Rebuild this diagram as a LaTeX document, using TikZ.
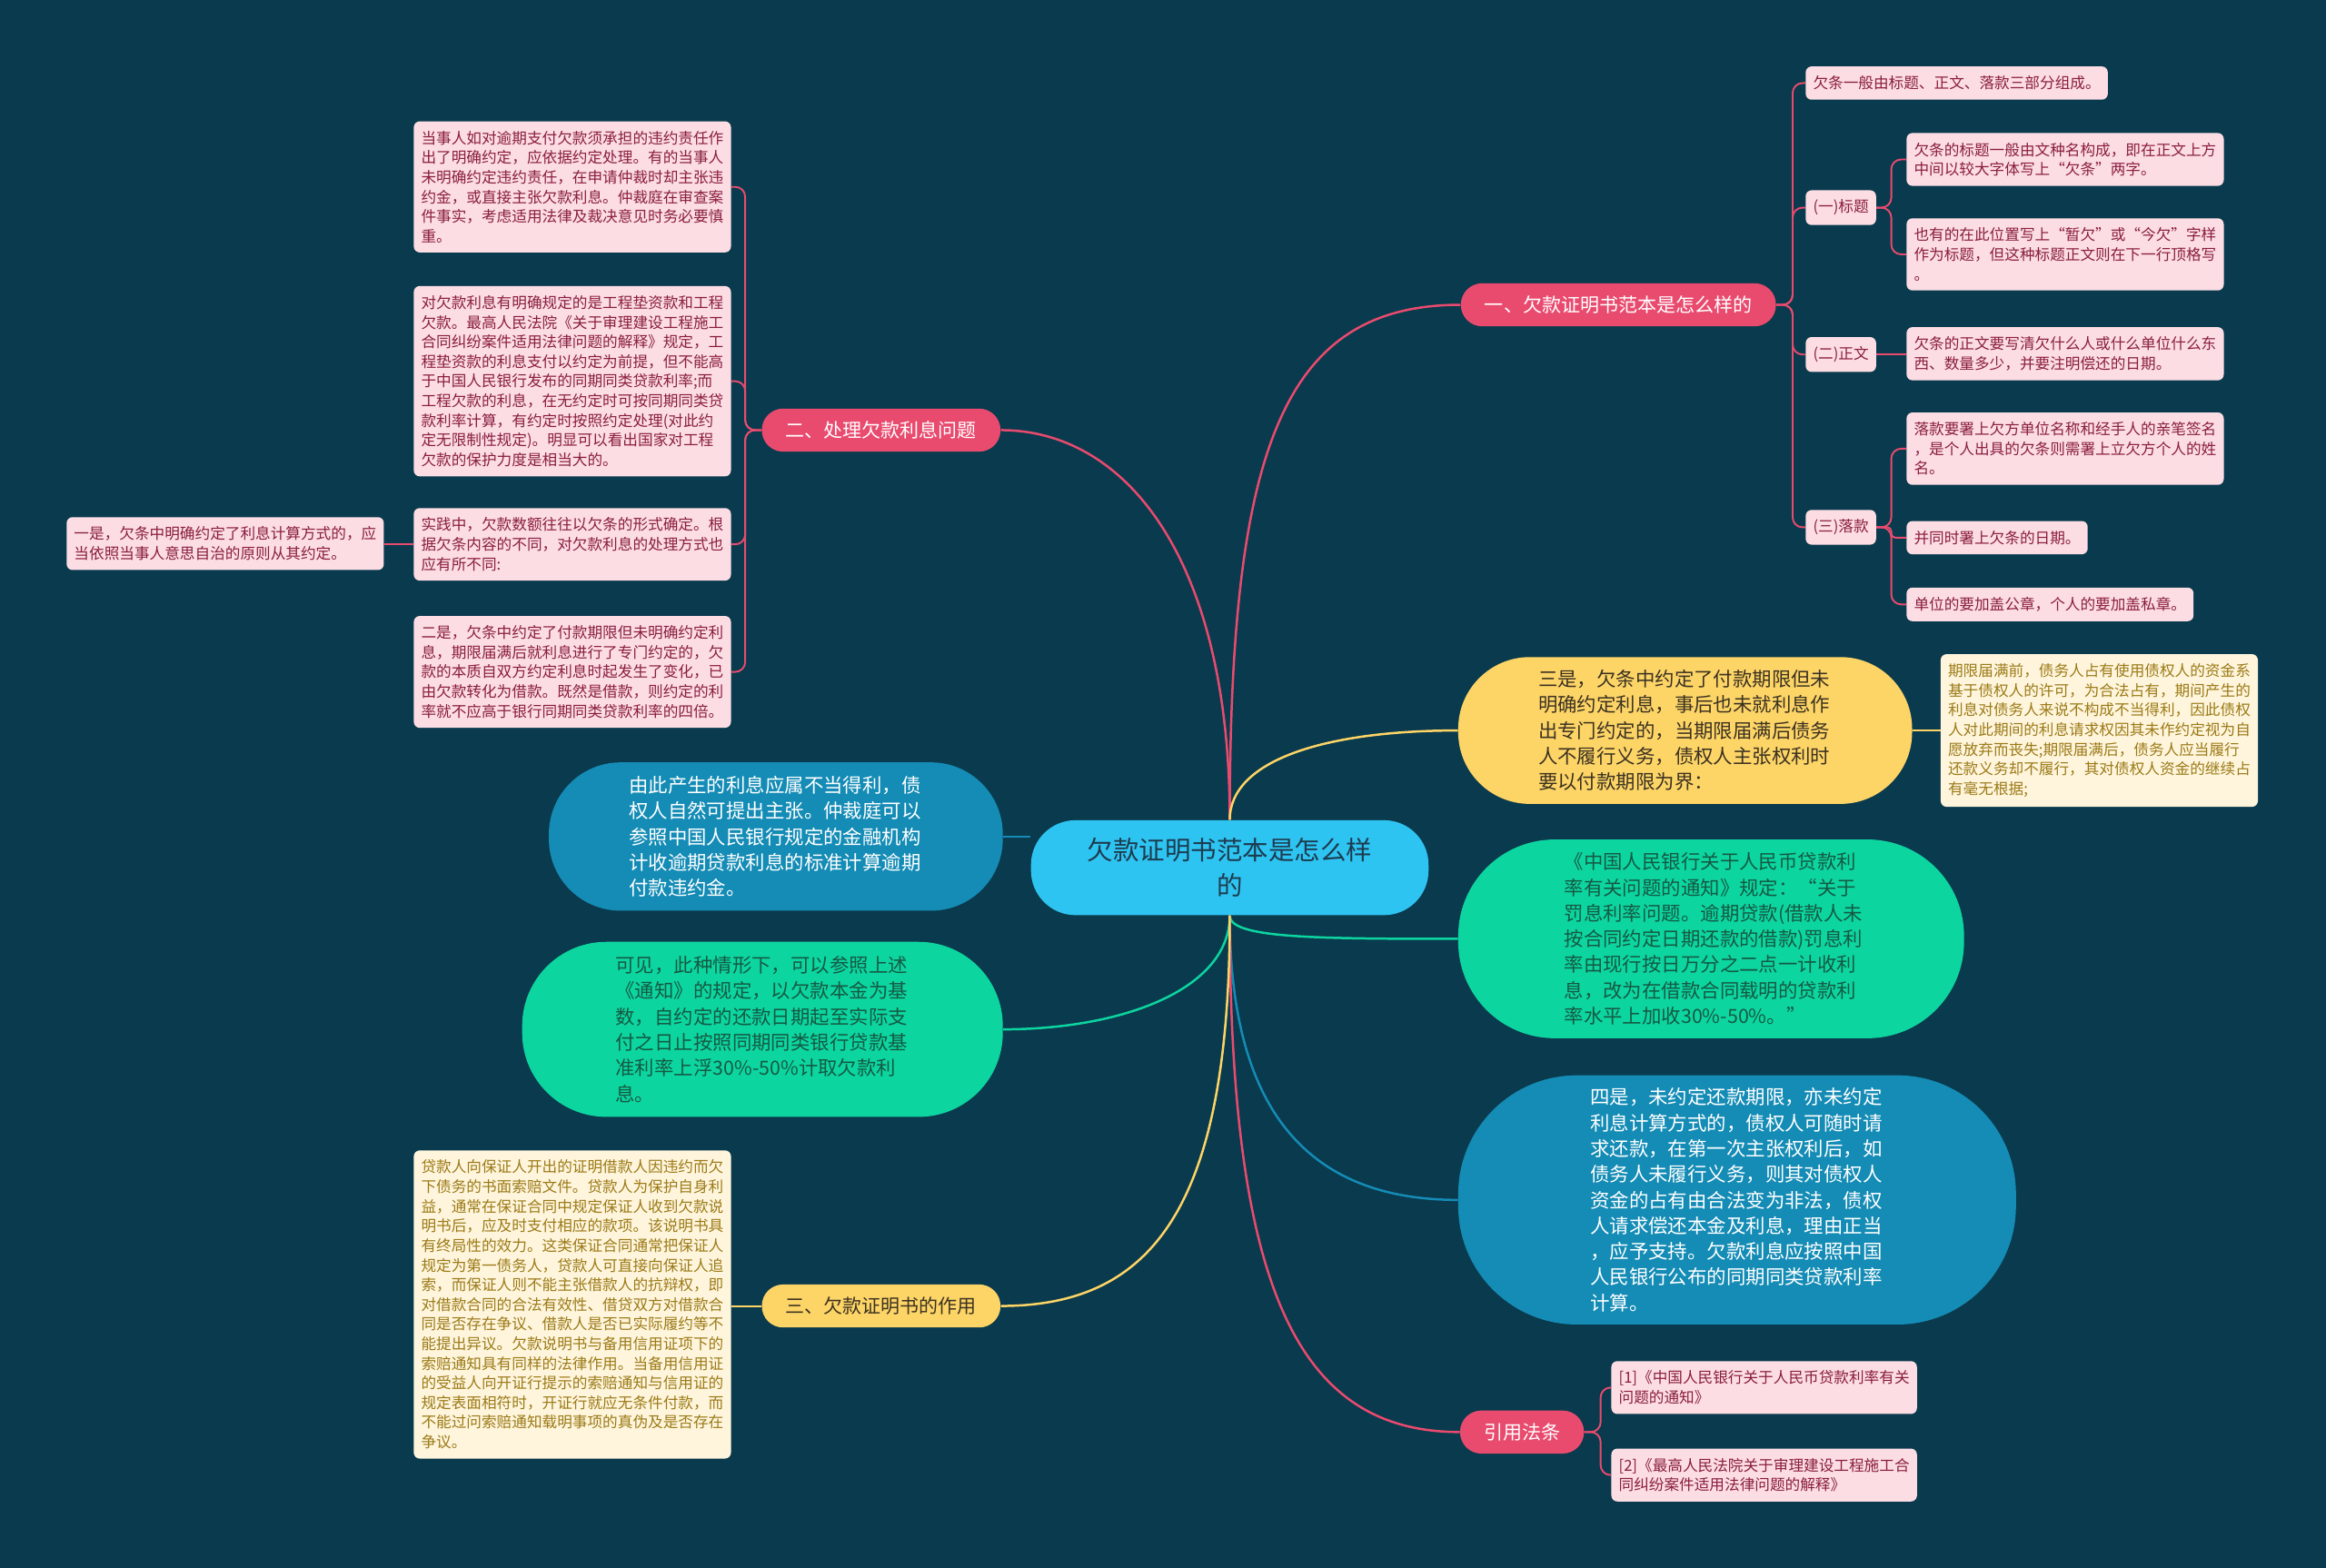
\documentclass[tikz,border=0pt]{standalone}
\usepackage{fontspec}
\setmainfont{Noto Sans CJK SC}
\usepackage{tikz}
\usetikzlibrary{positioning,calc}
\definecolor{bgteal}{HTML}{0A3A4D}
\definecolor{rootcyan}{HTML}{2EC4F1}
\definecolor{roottext}{HTML}{1D3B4F}
\definecolor{topicpink}{HTML}{E94B6F}
\definecolor{leafpink}{HTML}{FCDDE4}
\definecolor{leafred}{HTML}{8A1E3E}
\definecolor{topicyellow}{HTML}{FDD466}
\definecolor{darkink}{HTML}{3B3222}
\definecolor{leafcream}{HTML}{FEF5DC}
\definecolor{leafgold}{HTML}{9C7A17}
\definecolor{bubblegreen}{HTML}{0DD5A0}
\definecolor{greenink}{HTML}{145A43}
\definecolor{bubbleblue}{HTML}{148CB6}

\begin{document}
\begin{tikzpicture}[
    x=0.3mm, y=-0.3mm,
    root/.style={fill=rootcyan, text=roottext, align=center, minimum width=80.4mm, minimum height=19.2mm, rounded corners=9mm, font=\fontsize{14.9pt}{20.4pt}\selectfont},
    topic/.style={text=white, minimum height=8.7mm, inner xsep=4.8mm, inner ysep=0pt, rounded corners=4.3mm, font=\fontsize{11pt}{13pt}\selectfont},
    bubble/.style={text width=59.4mm, align=left, font=\fontsize{11.2pt}{14.8pt}\selectfont},
    leafbox/.style={fill=leafpink, text=leafred, align=left, inner xsep=1.5mm, inner ysep=5.5pt, rounded corners=1.2mm, font=\fontsize{8.7pt}{11.3pt}\selectfont},
    creambox/.style={leafbox, fill=leafcream, text=leafgold},
    trunk/.style={line width=1.3pt},
    twig/.style={line width=1pt, rounded corners=2mm}
]

% background
\fill[bgteal] (0,0) rectangle (1568,1057);

% Root
\node[root] (root) at (829,585) {欠款证明书范本是怎么样\\的};

% Main topics
\node[topic, fill=topicpink] (one) at (1091,205.5) {一、欠款证明书范本是怎么样的};
\node[topic, fill=topicpink] (two) at (594,290) {二、处理欠款利息问题};
\node[topic, fill=topicyellow, text=darkink] (three) at (594,880.5) {三、欠款证明书的作用};
\node[topic, fill=topicpink] (cite) at (1026,965.5) {引用法条};

% Bubbles
\node[bubble, fill=topicyellow, text=darkink, minimum width=91.8mm, minimum height=29.7mm, rounded corners=14.5mm] (sanshi) at (1136,492.5) {三是，欠条中约定了付款期限但未\\明确约定利息，事后也未就利息作\\出专门约定的，当期限届满后债务\\人不履行义务，债权人主张权利时\\要以付款期限为界：};
\node[bubble, fill=bubblegreen, text=greenink, minimum width=102.3mm, minimum height=40.2mm, rounded corners=19.5mm] (greenR) at (1153.5,633) {《中国人民银行关于人民币贷款利\\率有关问题的通知》规定：“关于\\罚息利率问题。逾期贷款(借款人未\\按合同约定日期还款的借款)罚息利\\率由现行按日万分之二点一计收利\\息，改为在借款合同载明的贷款利\\率水平上加收30\%-50\%。”};
\node[bubble, fill=bubbleblue, text=white, minimum width=112.8mm, minimum height=50.4mm, rounded corners=24mm] (sishi) at (1171,809) {四是，未约定还款期限，亦未约定\\利息计算方式的，债权人可随时请\\求还款，在第一次主张权利后，如\\债务人未履行义务，则其对债权人\\资金的占有由合法变为非法，债权\\人请求偿还本金及利息，理由正当\\，应予支持。欠款利息应按照中国\\人民银行公布的同期同类贷款利率\\计算。};
\node[bubble, fill=bubbleblue, text=white, minimum width=91.8mm, minimum height=30mm, rounded corners=14.5mm] (blueL) at (523,564) {由此产生的利息应属不当得利，债\\权人自然可提出主张。仲裁庭可以\\参照中国人民银行规定的金融机构\\计收逾期贷款利息的标准计算逾期\\付款违约金。};
\node[bubble, fill=bubblegreen, text=greenink, minimum width=97.2mm, minimum height=35.4mm, rounded corners=17mm] (greenL) at (514,694) {可见，此种情形下，可以参照上述\\《通知》的规定，以欠款本金为基\\数，自约定的还款日期起至实际支\\付之日止按照同期同类银行贷款基\\准利率上浮30\%-50\%计取欠款利\\息。};

% Leaves of topic one
\node[leafbox, anchor=west] (intro) at (1217,56) {欠条一般由标题、正文、落款三部分组成。};
\node[leafbox, anchor=west] (tA) at (1217,140) {(一)标题};
\node[leafbox, anchor=west] (tB) at (1217,239) {(二)正文};
\node[leafbox, anchor=west] (tC) at (1217,355.5) {(三)落款};
\node[leafbox, anchor=west] (b1) at (1285,107.5) {欠条的标题一般由文种名构成，即在正文上方\\中间以较大字体写上“欠条”两字。};
\node[leafbox, anchor=west] (b2) at (1285,171.5) {也有的在此位置写上“暂欠”或“今欠”字样\\作为标题，但这种标题正文则在下一行顶格写\\。};
\node[leafbox, anchor=west] (b3) at (1285,238.5) {欠条的正文要写清欠什么人或什么单位什么东\\西、数量多少，并要注明偿还的日期。};
\node[leafbox, anchor=west] (b4) at (1285,302.5) {落款要署上欠方单位名称和经手人的亲笔签名\\，是个人出具的欠条则需署上立欠方个人的姓\\名。};
\node[leafbox, anchor=west] (b5) at (1285,362.5) {并同时署上欠条的日期。};
\node[leafbox, anchor=west] (b6) at (1285,407.5) {单位的要加盖公章，个人的要加盖私章。};

% Leaves of topic two
\node[leafbox, anchor=east] (l1) at (493,126) {当事人如对逾期支付欠款须承担的违约责任作\\出了明确约定，应依据约定处理。有的当事人\\未明确约定违约责任，在申请仲裁时却主张违\\约金，或直接主张欠款利息。仲裁庭在审查案\\件事实，考虑适用法律及裁决意见时务必要慎\\重。};
\node[leafbox, anchor=east] (l2) at (493,257) {对欠款利息有明确规定的是工程垫资款和工程\\欠款。最高人民法院《关于审理建设工程施工\\合同纠纷案件适用法律问题的解释》规定，工\\程垫资款的利息支付以约定为前提，但不能高\\于中国人民银行发布的同期同类贷款利率;而\\工程欠款的利息，在无约定时可按同期同类贷\\款利率计算，有约定时按照约定处理(对此约\\定无限制性规定)。明显可以看出国家对工程\\欠款的保护力度是相当大的。};
\node[leafbox, anchor=east] (l3) at (493,367) {实践中，欠款数额往往以欠条的形式确定。根\\据欠条内容的不同，对欠款利息的处理方式也\\应有所不同:};
\node[leafbox, anchor=east] (l3a) at (259,366.5) {一是，欠条中明确约定了利息计算方式的，应\\当依照当事人意思自治的原则从其约定。};
\node[leafbox, anchor=east] (l4) at (493,453) {二是，欠条中约定了付款期限但未明确约定利\\息，期限届满后就利息进行了专门约定的，欠\\款的本质自双方约定利息时起发生了变化，已\\由欠款转化为借款。既然是借款，则约定的利\\率就不应高于银行同期同类贷款利率的四倍。};

% Cream leaves
\node[creambox, anchor=east] (y1) at (493,879.5) {贷款人向保证人开出的证明借款人因违约而欠\\下债务的书面索赔文件。贷款人为保护自身利\\益，通常在保证合同中规定保证人收到欠款说\\明书后，应及时支付相应的款项。该说明书具\\有终局性的效力。这类保证合同通常把保证人\\规定为第一债务人，贷款人可直接向保证人追\\索，而保证人则不能主张借款人的抗辩权，即\\对借款合同的合法有效性、借贷双方对借款合\\同是否存在争议、借款人是否已实际履约等不\\能提出异议。欠款说明书与备用信用证项下的\\索赔通知具有同样的法律作用。当备用信用证\\的受益人向开证行提示的索赔通知与信用证的\\规定表面相符时，开证行就应无条件付款，而\\不能过问索赔通知载明事项的真伪及是否存在\\争议。};
\node[creambox, anchor=west] (y2) at (1308,492.5) {期限届满前，债务人占有使用债权人的资金系\\基于债权人的许可，为合法占有，期间产生的\\利息对债务人来说不构成不当得利，因此债权\\人对此期间的利息请求权因其未作约定视为自\\愿放弃而丧失;期限届满后，债务人应当履行\\还款义务却不履行，其对债权人资金的继续占\\有毫无根据;};

% References
\node[leafbox, anchor=west] (r1) at (1086,935.5) {[1]《中国人民银行关于人民币贷款利率有关\\问题的通知》};
\node[leafbox, anchor=west] (r2) at (1086,994.5) {[2]《最高人民法院关于审理建设工程施工合\\同纠纷案件适用法律问题的解释》};

% Main branches
\draw[trunk, topicpink] (root.north) .. controls +(0,-250) and +(-120,0) .. (one.west);
\draw[trunk, topicpink] (root.north) .. controls +(0,-175) and +(85,0) .. (two.east);
\draw[trunk, topicyellow] (root.north) .. controls +(0,-40) and +(-90,0) .. (sanshi.west);
\draw[trunk, bubbleblue] (blueL.east) -- (blueL.east -| root.west);
\draw[trunk, bubblegreen] (root.south) .. controls +(0,50) and +(80,0) .. (greenL.east);
\draw[trunk, bubblegreen] (root.south) .. controls +(0,15) and +(-100,0) .. (greenR.west);
\draw[trunk, bubbleblue] (root.south) .. controls +(0,120) and +(-110,0) .. (sishi.west);
\draw[trunk, topicpink] (root.south) .. controls +(0,250) and +(-110,0) .. (cite.west);
\draw[trunk, topicyellow] (root.south) .. controls +(0,200) and +(100,0) .. (three.east);

% Twigs of topic one
\draw[twig, topicpink] (one.east) -- ++(11,0) |- (intro.west);
\draw[twig, topicpink] (one.east) -- ++(11,0) |- (tA.west);
\draw[twig, topicpink] (one.east) -- ++(11,0) |- (tB.west);
\draw[twig, topicpink] (one.east) -- ++(11,0) |- (tC.west);
\draw[twig, topicpink] (tA.east) -- ++(10,0) |- (b1.west);
\draw[twig, topicpink] (tA.east) -- ++(10,0) |- (b2.west);
\draw[twig, topicpink] (tB.east) -- (tB.east -| b3.west);
\draw[twig, topicpink] (tC.east) -- ++(10,0) |- (b4.west);
\draw[twig, topicpink, rounded corners=0.8mm] (tC.east) -- ++(10,0) |- (b5.west);
\draw[twig, topicpink] (tC.east) -- ++(10,0) |- (b6.west);

% Twigs of topic two
\draw[twig, topicpink] (two.west) -- ++(-11,0) |- (l1.east);
\draw[twig, topicpink] (two.west) -- ++(-11,0) |- (l2.east);
\draw[twig, topicpink] (two.west) -- ++(-11,0) |- (l3.east);
\draw[twig, topicpink] (two.west) -- ++(-11,0) |- (l4.east);
\draw[twig, topicpink] (l3.west) -- (l3.west -| l3a.east);

% Other twigs
\draw[twig, topicyellow] (three.west) -- (three.west -| y1.east);
\draw[twig, topicyellow] (sanshi.east) -- (sanshi.east -| y2.west);
\draw[twig, topicpink] (cite.east) -- ++(11,0) |- (r1.west);
\draw[twig, topicpink] (cite.east) -- ++(11,0) |- (r2.west);

\end{tikzpicture}
\end{document}
